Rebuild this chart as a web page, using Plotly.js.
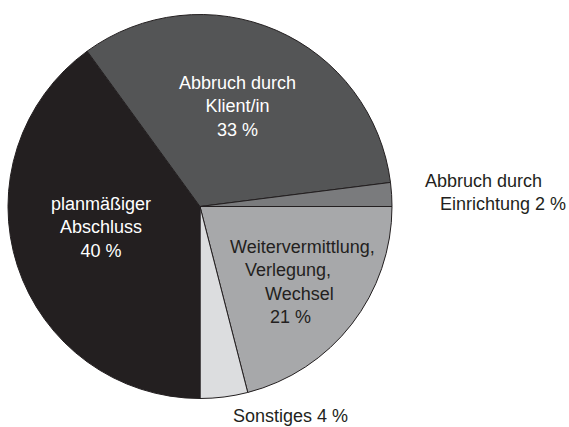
<!DOCTYPE html>
<html>
<head>
<meta charset="utf-8">
<script src="https://cdn.plot.ly/plotly-3.0.1.min.js"></script>
<style>
  html, body { margin: 0; padding: 0; background: #fff; }
  #chart { width: 569px; height: 427px; }
</style>
</head>
<body>
<div id="chart"></div>
<script>
// slices, clockwise from 3 o'clock
const labels = ['Weitervermittlung,<br>Verlegung,<br>Wechsel', 'Sonstiges', 'planmäßiger<br>Abschluss', 'Abbruch durch<br>Klient/in', 'Abbruch durch<br>Einrichtung'];
const values = [21, 4, 40, 33, 2];
const sliceColors = ['#a7a8aa', '#dcdddf', '#231f20', '#545556', '#7a7b7d'];
const labelColors = ['#231f20', '#231f20', '#ffffff', '#ffffff', '#231f20'];

const FONT = 'Liberation Sans, Arial, sans-serif';
const W = 569, H = 427;

let data = [{
    type: 'pie',
    labels: labels,
    values: values,
    sort: false,
    direction: 'clockwise',
    rotation: 90,
    textinfo: 'none',
    hoverinfo: 'none',
    marker: { colors: sliceColors, line: { color: '#231f20', width: 1 } },
    domain: { x: [8/W, 392/W], y: [28.5/H, 412.5/H] },
    showlegend: false
}];

// label placement (pixels), one per slice; indent = nbsp count per line
const labelPos = [
    { x: 228, y: 282, xanchor: 'left',   align: 'left', indent: [0, 3, 7, 8] },
    { x: 290, y: 416, xanchor: 'center', align: 'center', sep: ' ' },
    { x: 101, y: 227, xanchor: 'center', align: 'center' },
    { x: 237, y: 106, xanchor: 'center', align: 'center' },
    { x: 423, y: 192, xanchor: 'left',   align: 'left', indent: [0, 3], sep: ' ' }
];

let annotations = labels.map((lab, i) => {
    let p = labelPos[i];
    let txt = lab + (p.sep || '<br>') + values[i] + ' %';
    if (p.indent) {
        txt = txt.split('<br>').map((ln, k) => '&nbsp;'.repeat(p.indent[k] || 0) + ln).join('<br>');
    }
    return {
        text: txt,
        x: p.x / W, y: 1 - p.y / H,
        xref: 'paper', yref: 'paper',
        xanchor: p.xanchor, yanchor: 'middle', align: p.align,
        showarrow: false,
        font: { family: FONT, size: 18, color: labelColors[i] }
    };
});

let layout = {
    width: W, height: H,
    margin: { l: 0, r: 0, t: 0, b: 0 },
    paper_bgcolor: '#ffffff',
    annotations: annotations
};

Plotly.newPlot('chart', data, layout, { displayModeBar: false, staticPlot: true });
</script>
</body>
</html>
